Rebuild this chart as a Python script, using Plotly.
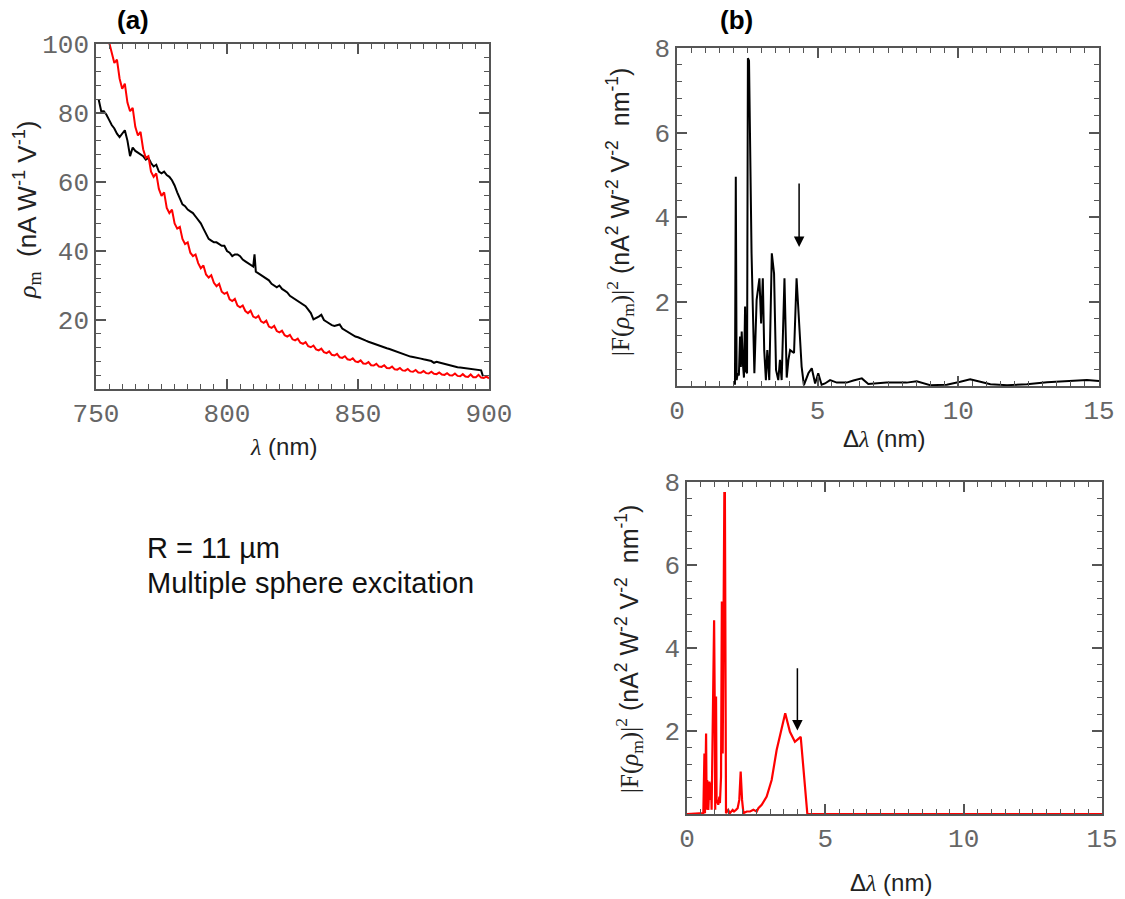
import plotly.graph_objects as go

# ---------------- data ----------------
# Panel (a): black curve
black_x = list(range(751, 811)) + [810.5] + list(range(811, 898)) + [897.7]
black_y = [84, 80.5, 80.5, 79.5, 78, 76.5, 75.5, 74, 73, 74,
           75, 72, 67.5, 70, 69, 68.5, 68, 67.5, 66.5, 67,
           65.5, 64.5, 65, 63, 62.5, 63, 62, 61.5, 60.5, 59,
           57, 55, 53.5, 53, 52, 51.5, 51, 50, 49, 48,
           46.5, 45, 43.5, 43, 42.5, 42.5, 42, 41.5, 41.5, 40,
           39.5, 38.5, 39, 39, 38.5, 37.5, 37, 36.5, 36, 35.5,
           39,
           34, 33.5, 33, 32.5, 32, 31.5, 30.5, 30, 29.5, 30,
           29, 28.5, 28, 27, 26.5, 26, 25.5, 25, 24.5, 24,
           23, 22, 20.2, 20.5, 21, 21.5, 20, 19.5, 19, 18.5,
           18.3, 18.5, 18.7, 17.5, 17, 16.5, 16, 15.6, 15.2, 15,
           14.6, 14.2, 14, 13.7, 13.4, 13.2, 12.8, 12.5, 12.3, 12,
           11.8, 11.6, 11.3, 11, 10.7, 10.4, 10.1, 9.8, 9.6, 9.4,
           9.3, 9.2, 9, 8.8, 8.6, 8.4, 8.3, 8.1, 7.6, 7.9,
           7.7, 7.5, 7.2, 6.9, 6.7, 6.5, 6.4, 6.3, 6.2, 6.1,
           6.0, 5.9, 5.8, 5.7, 5.6, 5.5, 5.4,
           3.7]

# Panel (a): red curve
red_x = list(range(755, 901))
red_y = [100.5, 97, 94.5, 95.5, 90, 87,
         88.5, 83, 80.5, 81.5, 76, 73.5, 74.5, 69.5, 67, 67.5,
         63, 61.5, 62.5, 58, 56, 57, 52.5, 51, 52, 48,
         46.5, 47, 43.5, 42, 42.5, 39.5, 38.5, 39, 36.5, 35,
         35.8, 33.2, 32.3, 33, 30.8, 29.8, 30.5, 28.2, 27.6, 28,
         26, 25.5, 26.1, 24.2, 23.7, 24.2, 22.6, 22, 22.7, 21,
         20.6, 21.2, 19.6, 19.2, 19.8, 18.1, 17.7, 18.3, 16.8, 16.4,
         16.9, 15.6, 15.2, 15.7, 14.4, 14.1, 14.6, 13.4, 13.1, 13.6,
         12.4, 12.1, 12.6, 11.5, 11.2, 11.7, 10.7, 10.4, 10.9, 9.9,
         9.7, 10.2, 9.2, 9.0, 9.5, 8.6, 8.4, 8.9, 8.0, 7.8,
         8.3, 7.4, 7.3, 7.8, 6.9, 6.8, 7.3, 6.5, 6.4, 6.9,
         6.1, 6.0, 6.5, 5.7, 5.6, 6.1, 5.4, 5.3, 5.8, 5.1,
         5.0, 5.5, 4.8, 4.7, 5.2, 4.6, 4.5, 5.0, 4.4, 4.3,
         4.8, 4.2, 4.1, 4.6, 4.0, 3.9, 4.5, 3.8, 3.7, 4.3,
         3.6, 3.5, 4.2, 3.4, 3.4, 4.1, 3.3, 3.2, 3.6, 3.1]

# Panel (b) top: black spectrum
bt_x = [2.06, 2.09, 2.12, 2.16, 2.20, 2.24, 2.27, 2.30, 2.34, 2.38,
        2.42, 2.45, 2.49, 2.52, 2.56, 2.65, 2.75, 2.83, 2.93, 2.99,
        3.05, 3.10, 3.16, 3.21, 3.28, 3.37, 3.45, 3.52, 3.60, 3.66,
        3.72, 3.82, 3.90, 3.96, 4.02, 4.10, 4.16, 4.25, 4.37, 4.43,
        4.51, 4.67, 4.79, 4.91, 5.02, 5.14, 5.26, 5.44, 5.68, 6.03,
        6.27, 6.57, 6.80, 7.10, 7.45, 8.16, 8.52, 9.00, 9.59, 10.07,
        10.42, 10.78, 11.14, 11.73, 12.44, 13.15, 13.86, 14.57, 15.0]
bt_y = [0.03, 4.95, 0.14, 0.30, 0.25, 1.17, 0.45, 1.29, 0.55, 0.20,
        1.88, 0.35, 0.30, 7.76, 7.70, 3.14, 0.30, 2.04, 2.55, 1.48,
        2.55, 0.85, 0.14, 0.85, 0.14, 3.14, 2.66, 0.38, 0.14, 0.62,
        0.14, 2.55, 0.20, 0.62, 0.85, 0.81, 0.78, 2.55, 1.17, 0.46,
        0.02, 0.30, 0.42, 0.06, 0.30, 0.03, 0.06, 0.14, 0.08, 0.08,
        0.13, 0.18, 0.05, 0.06, 0.08, 0.08, 0.11, 0.02, 0.03, 0.10,
        0.16, 0.10, 0.04, 0.02, 0.04, 0.09, 0.12, 0.14, 0.12]

# Panel (b) bottom: red spectrum
br_x = [0, 0.59, 0.63, 0.65, 0.69, 0.71, 0.73, 0.77, 0.81, 0.83,
        0.87, 0.89, 0.92, 0.95, 0.98, 1.00, 1.02, 1.05, 1.07, 1.10,
        1.13, 1.17, 1.19, 1.23, 1.26, 1.29, 1.31, 1.35, 1.37, 1.41,
        1.49, 1.55, 1.65, 1.70, 1.77, 1.83, 1.89, 1.94, 1.99, 2.04,
        2.16, 2.28, 2.40, 2.52, 2.58, 2.70, 2.88, 3.06, 3.24, 3.42,
        3.55, 3.72, 3.90, 4.11, 4.23, 4.35, 15]
br_y = [0, 0.02, 1.46, 0.02, 1.94, 0.10, 0.82, 0.10, 0.78, 0.34,
        0.75, 0.10, 1.62, 3.55, 4.67, 2.83, 0.10, 2.83, 0.26, 0.34,
        0.22, 0.42, 0.26, 0.90, 5.12, 1.46, 5.12, 7.73, 7.73, 0.02,
        0.10, 0.02, 0.10, 0.06, 0.10, 0.14, 0.34, 1.02, 0.34, 0.02,
        0.06, 0.06, 0.10, 0.06, 0.14, 0.22, 0.42, 0.82, 1.54, 2.07,
        2.43, 1.98, 1.74, 1.86, 0.98, 0, 0]

a_yticks = [20, 40, 60, 80, 100]
b_yticks = [2, 4, 6, 8]

# ---------------- figure ----------------
W, H = 1125, 899


def px(x):
    return x / W


def py(y):
    return 1 - y / H


fig = go.Figure()
fig.add_trace(go.Scatter(x=black_x, y=black_y, mode="lines",
                         line=dict(color="black", width=2), xaxis="x", yaxis="y"))
fig.add_trace(go.Scatter(x=red_x, y=red_y, mode="lines",
                         line=dict(color="#ff0000", width=2), xaxis="x", yaxis="y"))
fig.add_trace(go.Scatter(x=bt_x, y=bt_y, mode="lines",
                         line=dict(color="black", width=2), xaxis="x2", yaxis="y2"))
fig.add_trace(go.Scatter(x=br_x, y=br_y, mode="lines",
                         line=dict(color="#ff0000", width=2.2), xaxis="x3", yaxis="y3"))

tickfont = dict(family="Liberation Mono", size=26, color="#666666")
base = dict(showline=True, linecolor="#555555", linewidth=1.5, mirror="ticks",
            ticks="inside", ticklen=10, tickwidth=1.5, tickcolor="#555555",
            showgrid=False, zeroline=False, tickfont=tickfont, fixedrange=True,
            automargin=False)


def minor(d):
    return dict(ticks="inside", ticklen=5, tickwidth=1.2, tickcolor="#555555",
                showgrid=False, tickmode="linear", tick0=0, dtick=d)


fig.update_layout(
    width=W, height=H, margin=dict(l=0, r=0, t=0, b=0, autoexpand=False),
    paper_bgcolor="white", plot_bgcolor="white", showlegend=False,
    xaxis=dict(base, domain=[px(96), px(489)], range=[750, 900], dtick=50,
               tick0=750, minor=minor(5), anchor="y"),
    yaxis=dict(base, domain=[py(389), py(44)], range=[0, 100], tickmode="array",
               tickvals=a_yticks, minor=minor(4), anchor="x"),
    xaxis2=dict(base, domain=[px(677), px(1099)], range=[0, 15], dtick=5,
                tick0=0, minor=minor(0.5), anchor="y2"),
    yaxis2=dict(base, domain=[py(386), py(48)], range=[0, 8], tickmode="array",
                tickvals=b_yticks, minor=minor(0.4), anchor="x2"),
    xaxis3=dict(base, domain=[px(687), px(1102)], range=[0, 15], dtick=5,
                tick0=0, minor=minor(0.5), anchor="y3"),
    yaxis3=dict(base, domain=[py(814), py(482)], range=[0, 8], tickmode="array",
                tickvals=b_yticks, minor=minor(0.4), anchor="x3"),
)

SANS = "Liberation Sans"
title_font = dict(family=SANS, size=24, color="#222222")

ann = []
# panel labels
ann.append(dict(text="<b>(a)</b>", x=px(133), y=py(20), font=dict(family=SANS, size=26, color="black")))
ann.append(dict(text="<b>(b)</b>", x=px(736), y=py(20), font=dict(family=SANS, size=26, color="black")))
# x titles
ann.append(dict(text='<span style="font-family:Liberation Serif"><i>λ</i></span> (nm)',
                x=px(283), y=py(447), font=title_font))
ann.append(dict(text='Δ<span style="font-family:Liberation Serif"><i>λ</i></span> (nm)',
                x=px(884), y=py(438), font=title_font))
ann.append(dict(text='Δ<span style="font-family:Liberation Serif"><i>λ</i></span> (nm)',
                x=px(891), y=py(882), font=title_font))
# y titles
ya = ('<span style="font-family:Liberation Serif"><i>ρ</i><sub>m</sub></span>'
      '\u00a0 (nA W<sup>-1</sup> V<sup>-1</sup>)')
yb = ('<span style="font-family:Liberation Serif">|F(<i>ρ</i><sub>m</sub>)|<sup>2</sup></span>'
      ' (nA<sup>2</sup> W<sup>-2</sup> V<sup>-2</sup>\u00a0 nm<sup>-1</sup>)')
ann.append(dict(text=ya, x=px(27), y=py(210), textangle=-90,
                font=dict(family=SANS, size=26, color="#222222")))
ann.append(dict(text=yb, x=px(620), y=py(212), textangle=-90,
                font=dict(family=SANS, size=25, color="#222222")))
ann.append(dict(text=yb, x=px(629), y=py(649), textangle=-90,
                font=dict(family=SANS, size=25, color="#222222")))
# side text
ann.append(dict(text="R = 11 µm", x=px(145), y=py(548), xanchor="left",
                font=dict(family=SANS, size=29, color="#111111")))
ann.append(dict(text="Multiple sphere excitation", x=px(145), y=py(583), xanchor="left",
                font=dict(family=SANS, size=29, color="#111111")))

for a in ann:
    a.setdefault("xref", "paper")
    a.setdefault("yref", "paper")
    a.setdefault("showarrow", False)
    a.setdefault("xanchor", "center")
    a.setdefault("yanchor", "middle")

# arrows
ann.append(dict(text="", xref="x2", yref="y2", axref="x2", ayref="y2",
                x=4.34, y=3.29, ax=4.34, ay=4.83, showarrow=True,
                arrowhead=2, arrowsize=1.4, arrowwidth=1.5, arrowcolor="black", standoff=0))
ann.append(dict(text="", xref="x3", yref="y3", axref="x3", ayref="y3",
                x=3.99, y=2.01, ax=3.99, ay=3.55, showarrow=True,
                arrowhead=2, arrowsize=1.4, arrowwidth=1.5, arrowcolor="black", standoff=0))

fig.update_layout(annotations=ann)
fig.write_html("out.html")
